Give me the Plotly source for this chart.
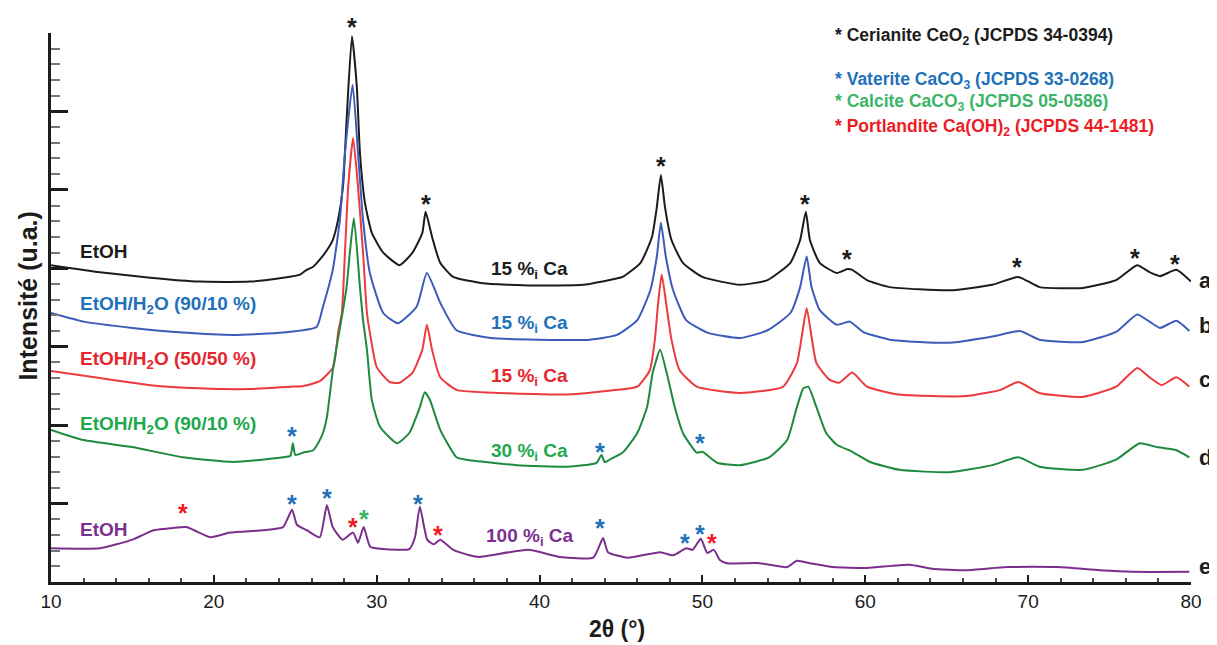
import plotly.graph_objects as go

# 2theta (deg) / stacked intensity (a.u.), one pattern per sample
x_a = [10.0, 13.0, 16.1, 19.1, 22.2, 24.25, 25.3, 25.7, 26.1, 26.5, 26.94, 27.3, 27.63, 27.93, 28.15,
       28.48, 28.78, 28.97, 29.28, 29.7, 30.4, 31.4, 32.2, 32.8, 33.0, 33.4, 33.9, 34.7, 36.5, 39.6,
       42.7, 44.5, 45.1, 46.2, 46.9, 47.2, 47.45, 47.7, 48.1, 48.8, 50.0, 52.3, 54.0, 55.4, 56.0,
       56.35, 56.6, 57.2, 58.25, 58.9, 59.2, 60.1, 61.5, 65.2, 67.8, 69.4, 70.7, 73.35, 75.4, 76.7,
       77.45, 78.1, 79.1, 80.0]
y_a = [4.04, 3.95, 3.88, 3.83, 3.83, 3.88, 3.92, 3.98, 4.02, 4.11, 4.23, 4.36, 4.62, 5.04, 5.89,
       6.96, 6.31, 5.47, 4.83, 4.45, 4.20, 4.04, 4.20, 4.45, 4.72, 4.40, 4.07, 3.89, 3.81, 3.78,
       3.79, 3.86, 3.89, 4.07, 4.40, 4.78, 5.19, 4.78, 4.36, 4.07, 3.89, 3.79, 3.85, 4.07, 4.36,
       4.72, 4.36, 4.07, 3.94, 3.99, 3.98, 3.85, 3.76, 3.72, 3.79, 3.89, 3.76, 3.75, 3.85, 4.04,
       3.95, 3.90, 3.98, 3.83]

x_b = [10.0, 12.0, 15.0, 18.1, 21.2, 24.25, 26.3, 26.7, 27.3, 27.74, 28.05, 28.52, 28.85, 29.16,
       29.58, 30.4, 31.3, 32.45, 33.08, 33.9, 34.9, 37.0, 40.0, 43.1, 44.75, 46.0, 46.8, 47.2, 47.45,
       47.75, 48.2, 49.0, 50.3, 52.3, 54.0, 55.4, 56.0, 56.4, 56.7, 57.2, 58.25, 59.05, 59.85, 61.5,
       65.2, 67.8, 69.5, 70.7, 73.35, 75.4, 76.7, 77.45, 78.1, 79.1, 79.9]
y_b = [3.43, 3.32, 3.24, 3.18, 3.15, 3.18, 3.25, 3.51, 3.98, 4.62, 5.47, 6.34, 5.47, 4.62,
       3.94, 3.43, 3.30, 3.51, 3.94, 3.56, 3.21, 3.11, 3.09, 3.09, 3.15, 3.34, 3.72, 4.15, 4.58,
       4.15, 3.72, 3.34, 3.18, 3.11, 3.21, 3.43, 3.76, 4.15, 3.76, 3.47, 3.28, 3.32, 3.19, 3.09,
       3.05, 3.13, 3.20, 3.09, 3.06, 3.19, 3.41, 3.32, 3.24, 3.33, 3.20]

x_c = [10.0, 13.0, 16.1, 19.1, 22.2, 24.7, 25.5, 26.5, 27.33, 27.63, 27.86, 28.05, 28.25, 28.55,
       28.85, 29.16, 29.4, 29.58, 30.0, 30.8, 31.4, 32.2, 32.8, 33.08, 33.4, 33.9, 34.9, 37.6, 41.7,
       44.75, 46.0, 46.77, 47.08, 47.26, 47.5, 47.8, 48.1, 48.6, 49.65, 52.3, 54.95, 55.8, 56.1,
       56.4, 56.7, 57.0, 57.8, 58.4, 59.2, 60.1, 62.1, 66.2, 68.3, 69.4, 70.7, 73.35, 75.4, 76.7,
       77.45, 78.2, 79.1, 79.9]
y_c = [2.69, 2.60, 2.51, 2.47, 2.46, 2.49, 2.50, 2.56, 2.74, 3.18, 3.43, 4.20, 5.04, 5.66,
       5.04, 4.20, 3.43, 3.18, 2.74, 2.55, 2.54, 2.67, 2.96, 3.28, 2.96, 2.61, 2.45, 2.41, 2.39,
       2.45, 2.49, 2.70, 3.09, 3.51, 3.92, 3.51, 3.09, 2.70, 2.49, 2.41, 2.49, 2.79, 3.13,
       3.49, 3.13, 2.79, 2.58, 2.54, 2.67, 2.49, 2.39, 2.37, 2.45, 2.55, 2.41, 2.36, 2.49, 2.73,
       2.61, 2.51, 2.61, 2.49]

x_d = [10.0, 12.0, 15.0, 18.1, 21.2, 24.25, 24.7, 24.85, 25.0, 25.5, 26.1, 26.4, 26.7, 26.94,
       27.33, 27.86, 28.15, 28.35, 28.6, 28.97, 29.16, 29.4, 29.7, 30.2, 31.25, 32.0, 32.65, 32.95,
       33.27, 33.9, 34.9, 35.5, 38.6, 41.7, 43.5, 43.8, 44.0, 44.3, 45.1, 46.0, 46.6, 46.95, 47.4,
       47.8, 48.3, 48.8, 49.65, 50.0, 50.9, 52.3, 54.1, 55.2, 55.8, 56.2, 56.5, 57.0, 57.6, 58.25,
       59.2, 60.3, 62.1, 65.2, 67.8, 69.4, 70.7, 73.35, 75.4, 76.85, 77.9, 79.1, 79.9]
y_d = [1.94, 1.81, 1.72, 1.59, 1.53, 1.59, 1.61, 1.77, 1.62, 1.65, 1.68, 1.77, 1.90, 2.10,
       2.74, 3.38, 3.76, 4.20, 4.64, 3.76, 3.34, 2.96, 2.32, 1.98, 1.77, 1.90, 2.23, 2.42,
       2.32, 1.94, 1.59, 1.56, 1.49, 1.47, 1.52, 1.62, 1.53, 1.56, 1.65, 1.90, 2.23, 2.67, 2.96,
       2.67, 2.23, 1.90, 1.65, 1.66, 1.52, 1.49, 1.59, 1.81, 2.23, 2.47, 2.49, 2.23, 1.90, 1.75,
       1.66, 1.53, 1.43, 1.40, 1.49, 1.59, 1.47, 1.43, 1.56, 1.77, 1.72, 1.68, 1.59]

x_e = [10.0, 13.0, 15.0, 16.3, 17.5, 18.3, 19.0, 19.8, 21.0, 23.0, 24.25, 24.8, 25.1, 25.7, 26.5,
       26.94, 27.3, 27.9, 28.55, 28.85, 29.2, 29.6, 30.4, 32.0, 32.35, 32.65, 33.1, 33.5, 33.9,
       34.7, 35.7, 36.3, 39.3, 41.25, 43.3, 43.9, 44.2, 45.4, 47.4, 48.2, 49.0, 49.4, 49.9, 50.3,
       50.7, 51.07, 51.5, 53.5, 55.2, 55.8, 56.6, 58.0, 60.1, 62.7, 64.1, 66.2, 68.7, 71.8, 74.4,
       76.4, 79.9]
y_e = [0.43, 0.43, 0.54, 0.66, 0.69, 0.70, 0.64, 0.57, 0.63, 0.66, 0.70, 0.92, 0.73, 0.66, 0.57,
       0.98, 0.70, 0.54, 0.63, 0.50, 0.70, 0.45, 0.42, 0.42, 0.57, 0.96, 0.54, 0.48, 0.54,
       0.41, 0.34, 0.32, 0.41, 0.32, 0.31, 0.56, 0.38, 0.31, 0.38, 0.34, 0.43, 0.41, 0.55, 0.37,
       0.41, 0.28, 0.24, 0.24, 0.19, 0.27, 0.24, 0.19, 0.18, 0.22, 0.17, 0.15, 0.19, 0.19, 0.15,
       0.13, 0.13]

curve_letters = ["a", "b", "c", "d", "e"]
solvents = ["EtOH", "EtOH/H<sub>2</sub>O (90/10 %)", "EtOH/H<sub>2</sub>O (50/50 %)",
            "EtOH/H<sub>2</sub>O (90/10 %)", "EtOH"]
ca_contents = ["15 %<sub>i</sub> Ca", "15 %<sub>i</sub> Ca", "15 %<sub>i</sub> Ca",
               "30 %<sub>i</sub> Ca", "100 %<sub>i</sub> Ca"]

# phase markers: 2theta, height (a.u.), phase
star_x = [28.5, 33.02, 47.45, 56.29, 58.87, 69.3, 76.54, 79.0,
          24.79, 43.7, 49.84,
          18.1, 24.79, 26.94, 28.54, 29.21, 32.53, 33.76, 43.7, 48.92, 49.84, 50.58]
star_y = [7.15, 4.90, 5.38, 4.89, 4.20, 4.09, 4.21, 4.13,
          1.94, 1.73, 1.85,
          0.96, 1.07, 1.15, 0.78, 0.88, 1.07, 0.68, 0.77, 0.57, 0.69, 0.57]
star_phase = ["CeO2"] * 8 + ["vaterite"] * 3 + ["portlandite", "vaterite", "vaterite", "portlandite",
              "calcite", "vaterite", "portlandite", "vaterite", "vaterite", "vaterite", "portlandite"]

phases = ["* Cerianite CeO<sub>2</sub> (JCPDS 34-0394)",
          "* Vaterite CaCO<sub>3</sub> (JCPDS 33-0268)",
          "* Calcite CaCO<sub>3</sub> (JCPDS 05-0586)",
          "* Portlandite Ca(OH)<sub>2</sub> (JCPDS 44-1481)"]

line_colors = ["#1c1c1c", "#3d5bb8", "#ec3a3f", "#1f8a3f", "#7b2f8d"]
text_colors = ["#1c1c1c", "#2171b9", "#e6262d", "#20a84c", "#7b3191"]
phase_colors = {"CeO2": "#1c1c1c", "vaterite": "#2171b9", "calcite": "#3bb46a", "portlandite": "#ed1c24"}
FONT = "Arial, Liberation Sans, sans-serif"
YMAX = 7

fig = go.Figure()
for xs, ys, col in zip([x_a, x_b, x_c, x_d, x_e], [y_a, y_b, y_c, y_d, y_e], line_colors):
    fig.add_trace(go.Scatter(x=xs, y=ys, mode="lines",
                             line=dict(color=col, width=2, shape="spline", smoothing=0.5),
                             showlegend=False, hoverinfo="skip"))

ann = []
# sample labels on the left, Ca content in the middle, letters on the right
solvent_y = [4.22, 3.53, 2.83, 2.0, 0.67]
ca_y = [3.98, 3.29, 2.61, 1.66, 0.57]
letter_y = [3.85, 3.27, 2.58, 1.59, 0.20]
for i in range(5):
    ann.append(dict(x=11.66, y=solvent_y[i], xref="x", yref="y", text="<b>%s</b>" % solvents[i],
                    xanchor="left", yanchor="middle", showarrow=False,
                    font=dict(size=19, color=text_colors[i], family=FONT)))
    ann.append(dict(x=39.4, y=ca_y[i], xref="x", yref="y", text="<b>%s</b>" % ca_contents[i],
                    xanchor="center", yanchor="middle", showarrow=False,
                    font=dict(size=19, color=text_colors[i], family=FONT)))
    ann.append(dict(x=1.0125, y=letter_y[i] / YMAX, xref="paper", yref="paper",
                    text="<b>%s</b>" % curve_letters[i], xanchor="center", yanchor="middle",
                    showarrow=False, font=dict(size=22, color="#1c1c1c", family=FONT)))

for sx, sy, ph in zip(star_x, star_y, star_phase):
    ann.append(dict(x=sx, y=sy / YMAX, xref="x", yref="paper", text="<b>*</b>", showarrow=False,
                    xanchor="center", yanchor="middle", yshift=-6,
                    font=dict(size=25, color=phase_colors[ph], family=FONT)))

legend_y = [6.95, 6.39, 6.11, 5.80]
for txt, ly, key in zip(phases, legend_y, ["CeO2", "vaterite", "calcite", "portlandite"]):
    ann.append(dict(x=0.686, y=ly / YMAX, xref="paper", yref="paper", text="<b>%s</b>" % txt,
                    xanchor="left", yanchor="middle", showarrow=False,
                    font=dict(size=17.5, color=phase_colors[key], family=FONT)))

# axis titles
ann.append(dict(x=0.4965, y=-0.113, xref="paper", yref="paper", text="<b>2θ (°)</b>",
                showarrow=False, xanchor="center", yanchor="bottom",
                font=dict(size=23, color="#1c1c1c", family=FONT)))
ann.append(dict(x=-0.021, y=0.52, xref="paper", yref="paper", text="<b>Intensité (u.a.)</b>",
                showarrow=False, xanchor="center", yanchor="middle", textangle=-90,
                font=dict(size=25, color="#1c1c1c", family=FONT)))

# page body keeps an 8px margin, so the figure is sized to fill the window from there
fig.update_layout(
    width=1209, height=637,
    margin=dict(l=43, r=26, t=25, b=63),
    plot_bgcolor="white", paper_bgcolor="white",
    font=dict(family=FONT, color="#1c1c1c"),
    annotations=ann,
    xaxis=dict(range=[10, 80], tickvals=[10, 20, 30, 40, 50, 60, 70, 80],
               ticks="inside", ticklen=7, tickwidth=2, tickcolor="#1c1c1c",
               minor=dict(dtick=2, ticks="inside", ticklen=4, tickwidth=1.5, tickcolor="#444"),
               showline=True, linewidth=2.5, linecolor="#1c1c1c", showgrid=False, zeroline=False,
               tickfont=dict(size=19, color="#1c1c1c", family=FONT)),
    yaxis=dict(range=[0, YMAX], dtick=1, ticks="inside", ticklen=17, tickwidth=2.5,
               tickcolor="#1c1c1c", showticklabels=False,
               minor=dict(dtick=0.2, ticks="inside", ticklen=9, tickwidth=2, tickcolor="#777"),
               showline=True, linewidth=2.5, linecolor="#1c1c1c", showgrid=False, zeroline=False),
)

fig.write_html("out.html")
